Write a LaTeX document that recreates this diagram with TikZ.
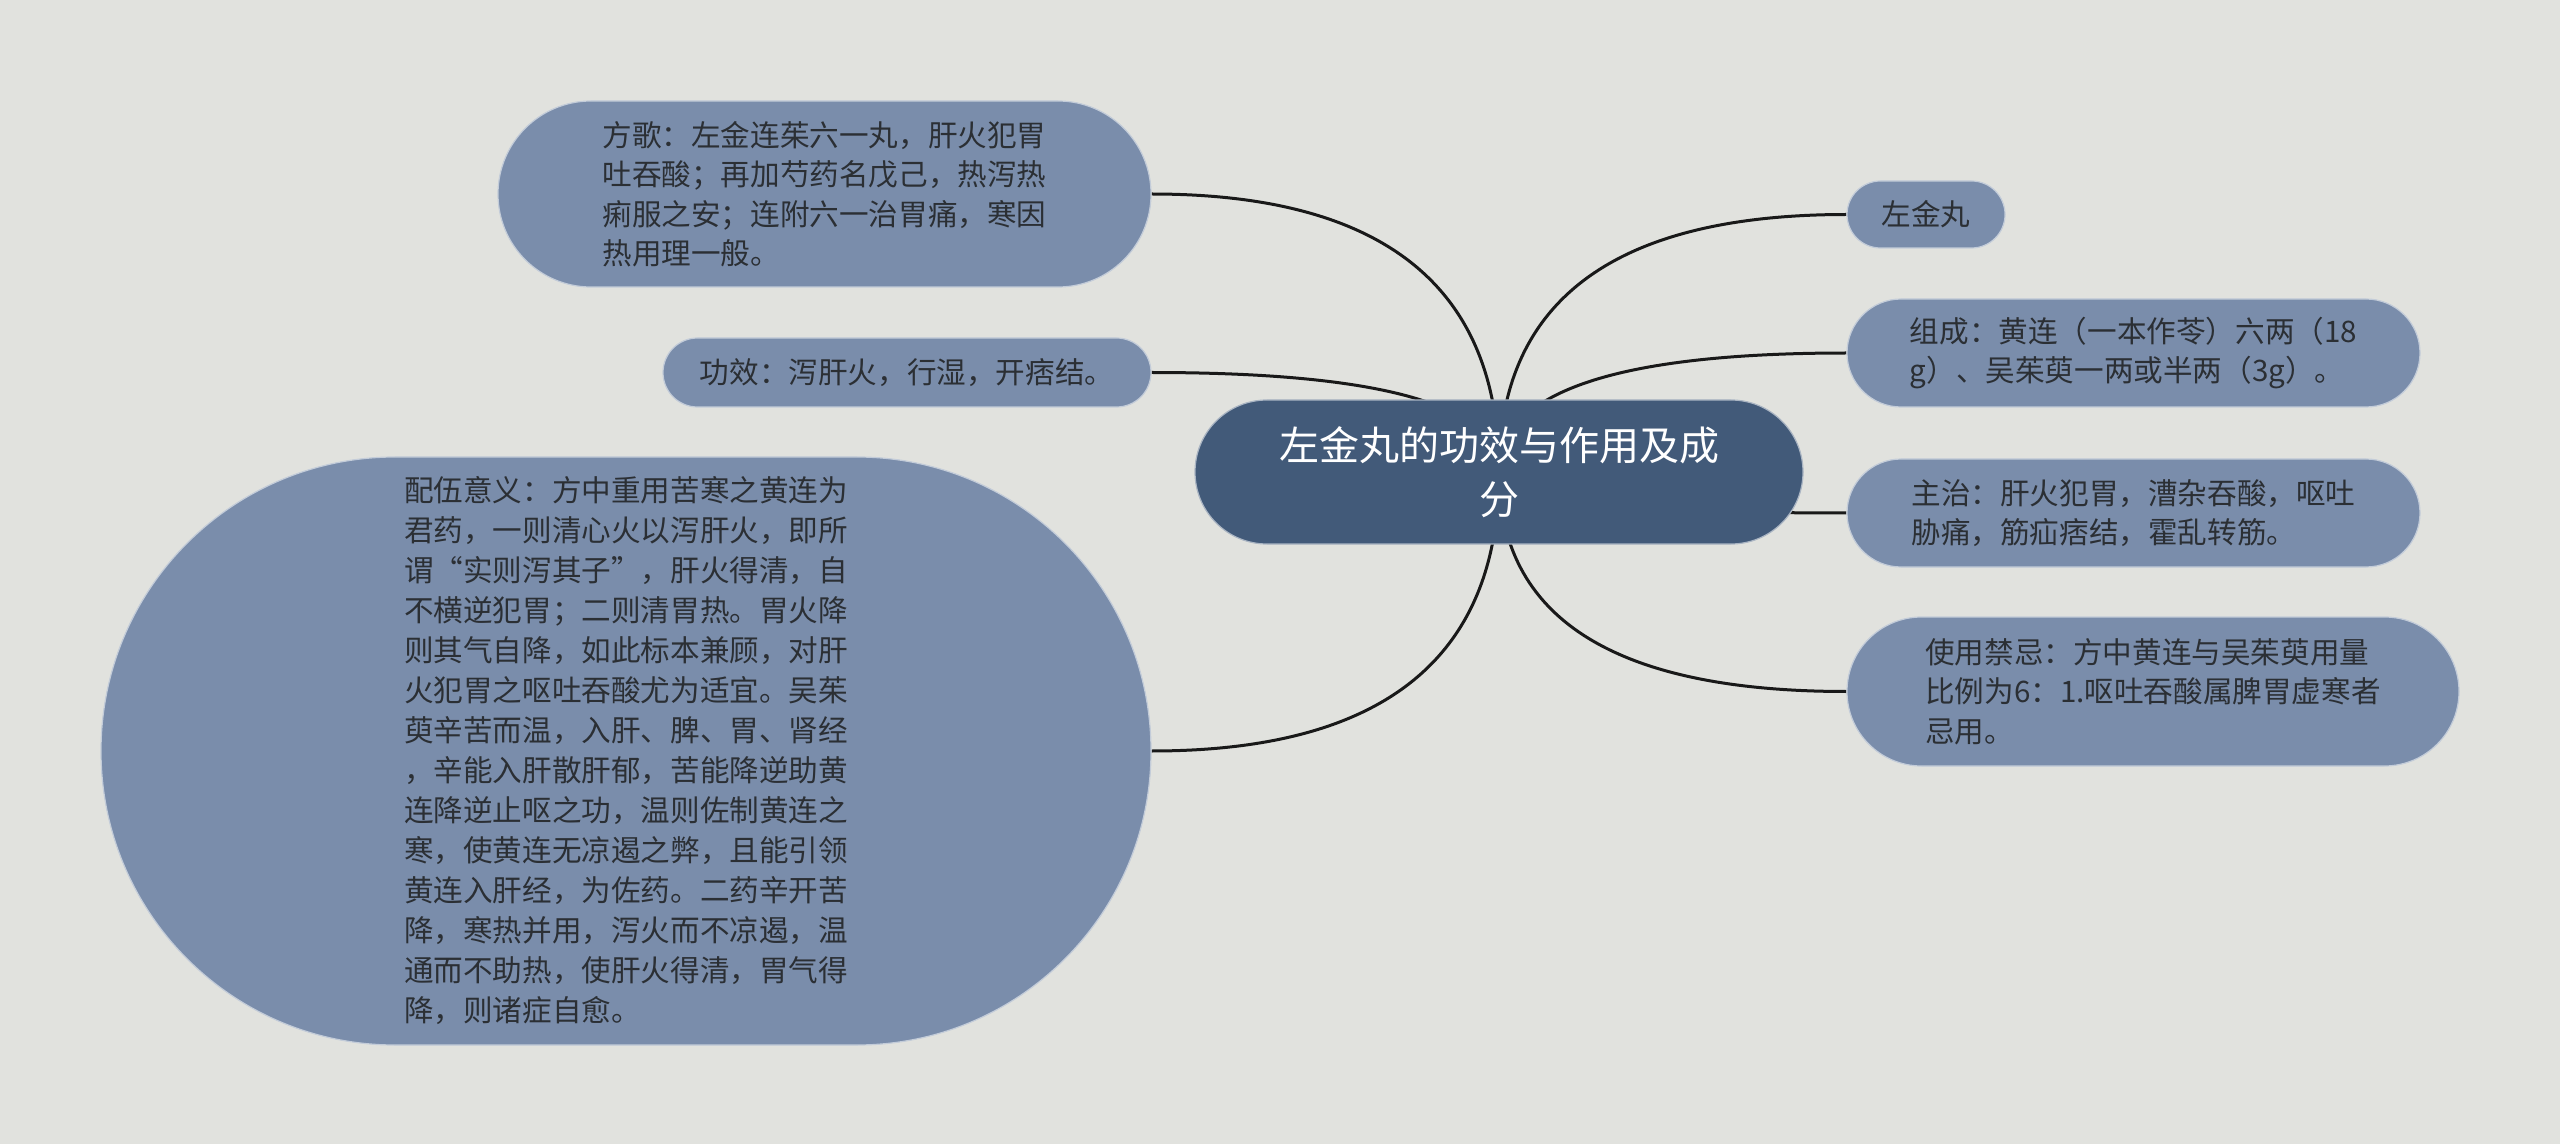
\documentclass[tikz,border=0pt]{standalone}
\usepackage{fontspec}
\setmainfont{Noto Sans CJK SC}
\usetikzlibrary{shapes.misc,calc,backgrounds}
\definecolor{bgcol}{HTML}{E1E2DE}
\definecolor{rootcol}{HTML}{425A79}
\definecolor{leafcol}{HTML}{7A8DAB}
\definecolor{inkcol}{HTML}{2B2F34}
\tikzset{
	leaf/.style={rounded rectangle, fill=leafcol, draw=white!55!leafcol, line width=0.6pt,
		text=inkcol, align=left, inner sep=0pt, font=\fontsize{14.8pt}{19.7pt}\selectfont},
	root/.style={rounded rectangle, fill=rootcol, draw=white!55!rootcol, line width=0.6pt,
		text=white, align=center, inner sep=0pt, font=\fontsize{20pt}{27pt}\selectfont},
	branchline/.style={line width=1.5pt, black!90}
}
% curve from the middle of the root to one side of a leaf
\newcommand\branch[2]{%
	\coordinate (bend) at (ctr.center |- #1.#2);
	\draw[branchline] (ctr.center) .. controls ($(ctr.center)!0.667!(bend)$) and ($(#1.#2)!0.667!(bend)$) .. (#1.#2);
}
\begin{document}
\begin{tikzpicture}[x=0.5pt,y=-0.5pt]
	\useasboundingbox (0,0) rectangle (2560,1144);
	\node[root, minimum width=304pt, minimum height=72pt] (ctr) at (1499,472) {左金丸的功效与作用及成\\分};
	% left side
	\node[leaf, minimum width=326.5pt, minimum height=93pt] (song) at (824.5,194) {方歌：左金连茱六一丸，肝火犯胃\\吐吞酸；再加芍药名戊己，热泻热\\痢服之安；连附六一治胃痛，寒因\\热用理一般。};
	\node[leaf, minimum width=244pt, minimum height=34.5pt] (gx) at (907,372.5) {功效：泻肝火，行湿，开痞结。};
	\node[leaf, minimum width=525pt, minimum height=294pt, font=\fontsize{14.8pt}{20pt}\selectfont] (pw) at (626,751) {配伍意义：方中重用苦寒之黄连为\\君药，一则清心火以泻肝火，即所\\谓“实则泻其子”，肝火得清，自\\不横逆犯胃；二则清胃热。胃火降\\则其气自降，如此标本兼顾，对肝\\火犯胃之呕吐吞酸尤为适宜。吴茱\\萸辛苦而温，入肝、脾、胃、肾经\\，辛能入肝散肝郁，苦能降逆助黄\\连降逆止呕之功，温则佐制黄连之\\寒，使黄连无凉遏之弊，且能引领\\黄连入肝经，为佐药。二药辛开苦\\降，寒热并用，泻火而不凉遏，温\\通而不助热，使肝火得清，胃气得\\降，则诸症自愈。};
	% right side
	\node[leaf, minimum width=79pt, minimum height=33.5pt] (name) at (1926,214.5) {左金丸};
	\node[leaf, minimum width=286.5pt, minimum height=54pt] (zc) at (2133.5,353) {组成：黄连（一本作苓）六两（18\\g）、吴茱萸一两或半两（3g）。};
	\node[leaf, minimum width=286.5pt, minimum height=54pt] (zz) at (2133.5,513) {主治：肝火犯胃，漕杂吞酸，呕吐\\胁痛，筋疝痞结，霍乱转筋。};
	\node[leaf, minimum width=306pt, minimum height=74.5pt] (jj) at (2153,691.5) {使用禁忌：方中黄连与吴茱萸用量\\比例为6：1.呕吐吞酸属脾胃虚寒者\\忌用。};
	\begin{scope}[on background layer]
		\fill[bgcol] (0,0) rectangle (2560,1144);
		\branch{song}{east}
		\branch{gx}{east}
		\branch{pw}{east}
		\branch{name}{west}
		\branch{zc}{west}
		\branch{zz}{west}
		\branch{jj}{west}
	\end{scope}
\end{tikzpicture}
\end{document}
